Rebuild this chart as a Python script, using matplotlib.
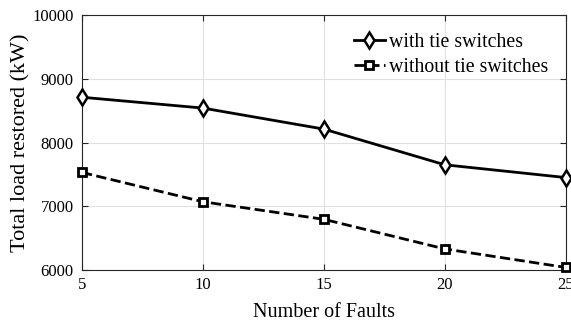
import numpy as np
import matplotlib
matplotlib.use('Agg')
import matplotlib.pyplot as plt

plt.rcParams['font.family'] = ['Liberation Serif', 'DejaVu Serif']
plt.rcParams['mathtext.fontset'] = 'stix'

# 故障数与恢复负荷
faults = [5, 10, 15, 20, 25]
load_with_tie = [8710, 8540, 8210, 7650, 7450]
load_without_tie = [7530, 7070, 6795, 6330, 6040]

fig = plt.figure(figsize=(5.71, 3.22), dpi=100)
ax = fig.add_axes([0.1436, 0.1615, 0.8474, 0.7919])

ax.plot(faults, load_with_tie, 'k-', linewidth=2, marker='d', markersize=8,
        markerfacecolor='white', markeredgewidth=1.8, label='with tie switches', clip_on=False, zorder=3)
ax.plot(faults, load_without_tie, 'k--', linewidth=2, marker='s', markersize=6,
        markerfacecolor='white', markeredgewidth=2, label='without tie switches', clip_on=False, zorder=3)

ax.set_xlim(5, 25)
ax.set_ylim(6000, 10000)
ax.set_xticks([5, 10, 15, 20, 25])
ax.set_yticks([6000, 7000, 8000, 9000, 10000])
ax.grid(True, color='#e0e0e0', linewidth=0.8)
ax.set_axisbelow(True)
ax.tick_params(direction='in', top=True, right=True, labelsize=12, length=4, color='#262626')
ax.tick_params(axis='y', pad=6)
ax.tick_params(axis='x', pad=5)
for s in ax.spines.values():
    s.set_color('#262626')
    s.set_linewidth(0.8)

ax.set_xlabel('Number of Faults', fontsize=14.5, labelpad=7)
ax.set_ylabel('Total load restored (kW)', fontsize=16, labelpad=1)
ax.legend(loc='upper right', frameon=False, fontsize=14.3, handlelength=1.55,
          handletextpad=0.2, labelspacing=0.3, borderaxespad=0.5)

plt.savefig('out.png', dpi=100)
